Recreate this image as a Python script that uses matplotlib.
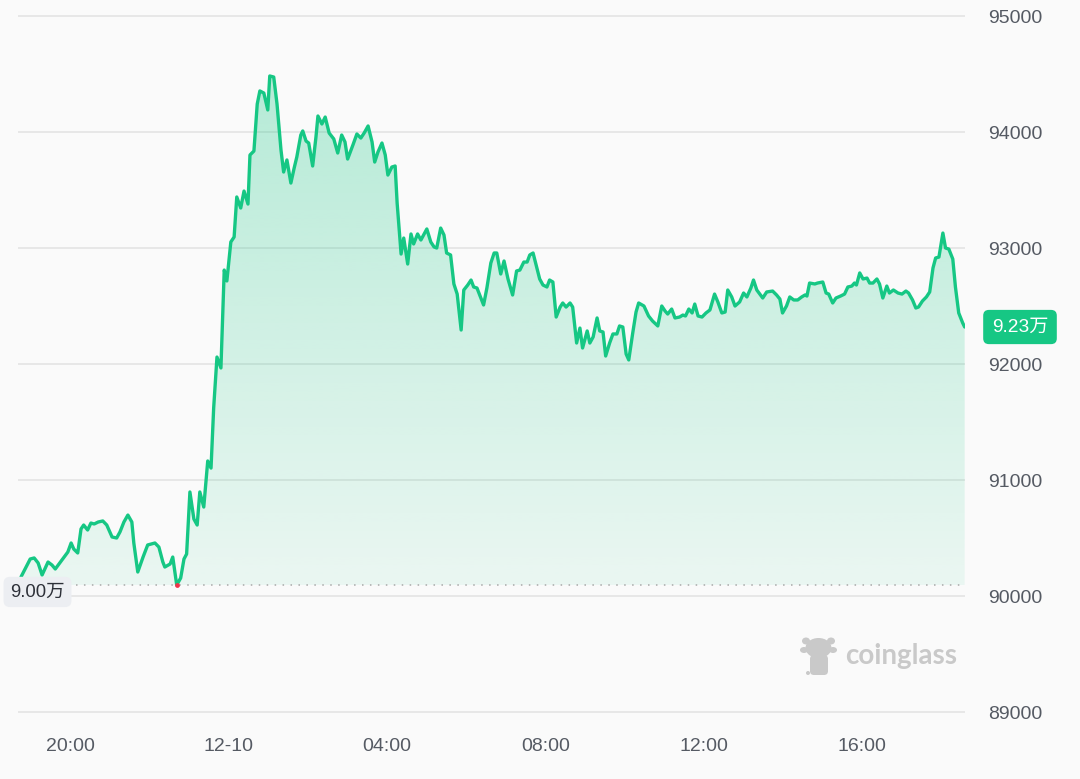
import numpy as np
import pandas as pd
import matplotlib
matplotlib.use('Agg')
import matplotlib.pyplot as plt
import matplotlib.dates as mdates
from matplotlib.colors import to_rgb
from matplotlib.transforms import blended_transform_factory
from matplotlib.patches import Ellipse, FancyBboxPatch

plt.rcParams['font.family'] = ['Liberation Sans', 'Noto Sans CJK SC', 'DejaVu Sans']

# ---------------- data ----------------
start_time = '2024-12-09 18:45'
minutes = [0, 14, 20, 26, 32, 41, 47, 52, 62, 71, 76, 80, 86, 91, 95, 101, 106, 111, 117, 124, 130, 138, 145, 150, 156, 162,
           168, 171, 177, 185, 192, 203, 209, 215, 218, 226, 230, 236, 242, 247, 251, 256, 262, 267, 271, 277, 283, 288, 292,
           297, 303, 308, 312, 318, 323, 327, 333, 338, 344, 347, 353, 358, 362, 368, 374, 377, 383, 388, 394, 398, 403, 409,
           414, 418, 424, 427, 432, 436, 442, 447, 450, 456, 461, 467, 474, 480, 486, 491, 495, 503, 509, 515, 520, 526, 532,
           536, 541, 547, 552, 556, 562, 567, 570, 576, 580, 586, 591, 595, 601, 606, 615, 621, 626, 630, 636, 641, 645, 651,
           656, 661, 667, 671, 677, 682, 686, 691, 701, 706, 712, 717, 721, 727, 732, 738, 745, 751, 756, 762, 767, 771, 776,
           786, 791, 797, 801, 806, 811, 817, 821, 826, 832, 836, 842, 847, 851, 858, 862, 867, 873, 877, 882, 886, 892, 897,
           903, 907, 912, 917, 921, 927, 932, 936, 944, 951, 957, 965, 971, 976, 980, 986, 991, 998, 1003, 1007, 1012, 1017,
           1021, 1026, 1032, 1038, 1044, 1051, 1056, 1062, 1067, 1071, 1077, 1082, 1089, 1095, 1100, 1106, 1110, 1115, 1124,
           1130, 1139, 1145, 1150, 1154, 1160, 1165, 1171, 1177, 1183, 1188, 1191, 1195, 1203, 1207, 1215, 1220, 1224, 1230,
           1235, 1242, 1248, 1253, 1259, 1263, 1266, 1271, 1276, 1282, 1286, 1291, 1297, 1301, 1306, 1312, 1316, 1322, 1329,
           1335, 1341, 1345, 1351, 1356, 1360, 1366, 1372, 1377, 1382, 1386, 1391, 1397, 1401, 1406, 1412, 1416, 1421, 1427,
           1430]
prices = [90164, 90319, 90328, 90285, 90181, 90293, 90267, 90233, 90310, 90379, 90457, 90405, 90371, 90578, 90612, 90569,
          90629, 90621, 90638, 90647, 90612, 90509, 90500, 90552, 90638, 90698, 90638, 90457, 90207, 90336, 90440, 90457,
          90422, 90293, 90250, 90276, 90336, 90095, 90155, 90319, 90362, 90897, 90664, 90612, 90897, 90767, 91164, 91103,
          91621, 92060, 91966, 92810, 92716, 93052, 93095, 93440, 93345, 93491, 93379, 93802, 93836, 94241, 94354, 94336,
          94190, 94483, 94474, 94241, 93845, 93655, 93759, 93560, 93690, 93785, 93974, 94009, 93922, 93905, 93707, 93957,
          94138, 94069, 94129, 93991, 93940, 93819, 93974, 93914, 93767, 93888, 93983, 93948, 93991, 94052, 93914, 93741,
          93828, 93905, 93802, 93629, 93698, 93707, 93388, 92948, 93086, 92862, 93121, 93035, 93121, 93069, 93164, 93052,
          93009, 93000, 93172, 93112, 92957, 92940, 92690, 92603, 92293, 92638, 92681, 92724, 92664, 92655, 92509, 92655,
          92871, 92957, 92957, 92776, 92888, 92733, 92595, 92802, 92810, 92879, 92879, 92940, 92957, 92733, 92681, 92664,
          92724, 92707, 92405, 92491, 92526, 92491, 92526, 92491, 92181, 92310, 92138, 92285, 92181, 92233, 92397, 92285,
          92276, 92069, 92181, 92259, 92259, 92328, 92319, 92086, 92035, 92267, 92448, 92526, 92500, 92414, 92371, 92328,
          92500, 92457, 92431, 92474, 92397, 92405, 92422, 92414, 92474, 92440, 92517, 92414, 92405, 92440, 92466, 92603,
          92535, 92440, 92448, 92638, 92578, 92500, 92535, 92612, 92578, 92655, 92724, 92638, 92569, 92621, 92629, 92595,
          92560, 92440, 92500, 92578, 92552, 92552, 92578, 92595, 92586, 92698, 92690, 92698, 92707, 92612, 92603, 92526,
          92569, 92586, 92603, 92664, 92672, 92698, 92681, 92785, 92733, 92741, 92698, 92698, 92733, 92690, 92569, 92672,
          92612, 92638, 92612, 92603, 92629, 92612, 92552, 92483, 92491, 92543, 92578, 92621, 92828, 92914, 92922, 93129,
          93000, 92991, 92905, 92664, 92440, 92354, 92319]
y_ticks = [89000, 90000, 91000, 92000, 93000, 94000, 95000]
x_tick_times = ['2024-12-09 20:00', '2024-12-10 00:00', '2024-12-10 04:00',
                '2024-12-10 08:00', '2024-12-10 12:00', '2024-12-10 16:00']
x_tick_labels = ['20:00', '12-10', '04:00', '08:00', '12:00', '16:00']
low_label = '9.00万'
last_label = '9.23万'
watermark = 'coinglass'

# ---------------- styles ----------------
GREEN = '#16c784'
BG = '#fafafa'
TXT = '#555a63'

t0 = pd.Timestamp(start_time)
times = t0 + pd.to_timedelta(minutes, unit='min')
x = mdates.date2num(times.to_pydatetime())
p = np.array(prices, dtype=float)
pmin, pmax = p.min(), p.max()
imin = int(p.argmin())

W, H = 1080, 779
fig = plt.figure(figsize=(W / 100, H / 100), dpi=100, facecolor=BG)
ax = fig.add_axes([18 / W, 1 - 730 / H, (965 - 18) / W, 730 / H])
ax.set_facecolor(BG)
for s in ax.spines.values():
    s.set_visible(False)

# gradient fill under the line
poly = ax.fill_between(x, p, pmin, color='none', lw=0)
grad = np.zeros((256, 1, 4))
grad[:, :, :3] = to_rgb(GREEN)
grad[:, 0, 3] = np.linspace(0.07, 0.30, 256)
im = ax.imshow(grad, extent=[x[0], x[-1], pmin, pmax], origin='lower',
               aspect='auto', zorder=2, interpolation='bilinear')
im.set_clip_path(poly.get_paths()[0], transform=ax.transData)

ax.plot(x, p, color=GREEN, lw=2.4, solid_joinstyle='round', solid_capstyle='round', zorder=4)

# low dotted line and marker
ax.axhline(pmin, xmin=(76 - 18) / 947, xmax=1, color='#a8a8a8', lw=1.1,
           linestyle=(0, (1, 4.2)), zorder=3)
ax.scatter([x[imin]], [pmin], s=12, color='#f0334a', zorder=5, linewidths=0)

# axes limits
xlo = mdates.date2num((t0 - pd.Timedelta(minutes=4.5)).to_pydatetime())
xhi = mdates.date2num((t0 + pd.Timedelta(minutes=1430.5)).to_pydatetime())
ax.set_xlim(xlo, xhi)
ax.set_ylim(88845, 95138)

# grid and ticks
ax.set_yticks(y_ticks)
ax.set_yticklabels([str(v) for v in y_ticks])
ax.yaxis.tick_right()
ax.grid(axis='y', color='#e4e4e4', lw=1.2, zorder=1)
ax.set_axisbelow(True)
ax.tick_params(axis='y', length=0, pad=16.5, labelsize=14, labelcolor=TXT)

xt = mdates.date2num(pd.to_datetime(x_tick_times).to_pydatetime())
ax.set_xticks(xt)
ax.set_xticklabels(x_tick_labels)
ax.tick_params(axis='x', length=0, pad=6, labelsize=14, labelcolor=TXT)

# price labels
bt = blended_transform_factory(fig.transFigure, ax.transData)
ax.annotate(low_label, xy=(37.5 / W, pmin), xycoords=bt, xytext=(0, -5), textcoords='offset points',
            ha='center', va='center', fontsize=13.3, color='#2d3038', zorder=6,
            bbox=dict(boxstyle='round,pad=0.36,rounding_size=0.35', fc='#eceef2', ec='none'))
ax.text(1020 / W, p[-1], last_label, transform=bt, ha='center', va='center',
        fontsize=13.8, color='white', zorder=6,
        bbox=dict(boxstyle='round,pad=0.45,rounding_size=0.3', fc=GREEN, ec='none'))

# watermark overlay (pixel coordinates)
ov = fig.add_axes([0, 0, 1, 1])
ov.set_xlim(0, W)
ov.set_ylim(H, 0)
ov.axis('off')
ov.patch.set_alpha(0)
wm = '#c9c9c9'
ov.text(901, 656, watermark, ha='center', va='center', fontsize=20, fontweight='bold',
        family=['Lato', 'DejaVu Sans'], color=wm)
ov.add_patch(Ellipse((818.5, 648), 26, 20, color=wm, lw=0))
ov.add_patch(Ellipse((806, 641), 8, 7, color=wm, lw=0))
ov.add_patch(Ellipse((831, 641), 8, 7, color=wm, lw=0))
ov.add_patch(Ellipse((804, 650), 8, 6, color=wm, lw=0))
ov.add_patch(Ellipse((833, 650), 8, 6, color=wm, lw=0))
ov.add_patch(FancyBboxPatch((810, 655), 18, 20, boxstyle='round,pad=0,rounding_size=4', color=wm, lw=0))
ov.add_patch(Ellipse((808, 673), 4, 4, color=wm, lw=0))

fig.savefig('out.png', dpi=100, facecolor=BG)
